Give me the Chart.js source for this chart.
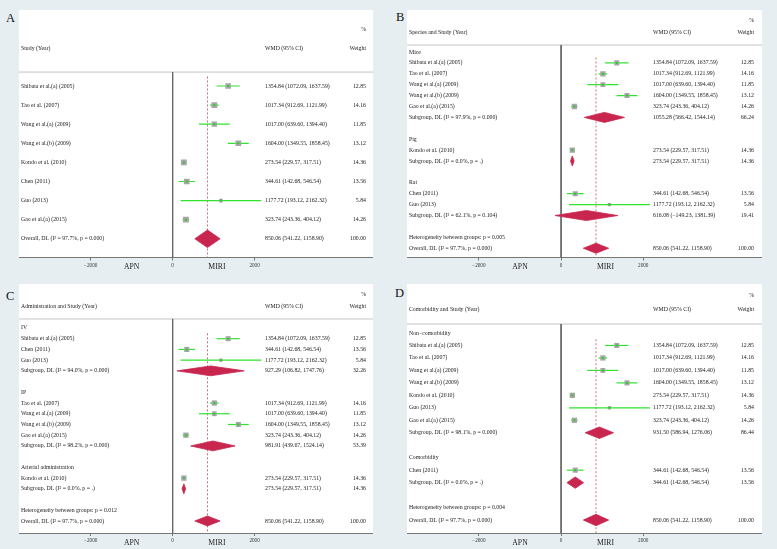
<!DOCTYPE html>
<html lang="en">
<head>
<meta charset="UTF-8" />
<title>Forest plots - WMD APN vs MIRI</title>
<script src="https://cdn.jsdelivr.net/npm/chart.js"></script>
<style>
  html, body { margin: 0; padding: 0; }
  body {
    width: 777px; height: 549px; position: relative; overflow: hidden;
    background: #e7eef1;
    font-family: "Liberation Serif", "Times New Roman", serif;
  }
  .panel { position: absolute; }
  .tag { position: absolute; font-size: 12.5px; line-height: 12.5px; color: #111; }
</style>
</head>
<body>
  <div class="tag" style="left:6px;top:12px;">A</div>
  <div class="tag" style="left:396px;top:11px;">B</div>
  <div class="tag" style="left:6px;top:290px;">C</div>
  <div class="tag" style="left:395px;top:287px;">D</div>
  <div class="panel" style="left:19px;top:10px;width:354px;height:266px;"><canvas id="cA"></canvas></div>
  <div class="panel" style="left:407px;top:10px;width:355px;height:266px;"><canvas id="cB"></canvas></div>
  <div class="panel" style="left:19px;top:284px;width:354px;height:265px;"><canvas id="cC"></canvas></div>
  <div class="panel" style="left:407px;top:284px;width:355px;height:265px;"><canvas id="cD"></canvas></div>
<script>
// individual studies
const studies = ['Shibata et al.(a) (2005)', 'Tao et al. (2007)', 'Wang et al.(a) (2009)', 'Wang et al.(b) (2009)',
                 'Kondo et al. (2010)', 'Chen (2011)', 'Guo (2013)', 'Gao et al.(a) (2015)'];
const wmd    = [1354.84, 1017.34, 1017.00, 1604.00, 273.54, 344.61, 1177.72, 323.74];
const ciLow  = [1072.09, 912.69, 639.60, 1349.55, 229.57, 142.68, 193.12, 243.36];
const ciHigh = [1637.59, 1121.99, 1394.40, 1858.45, 317.51, 546.54, 2162.32, 404.12];
const weights = [12.85, 14.16, 11.85, 13.12, 14.36, 13.56, 5.84, 14.26];

// overall pooled estimate
const overallEst = [850.06, 541.22, 1158.90];
const overallI2 = '97.7%';
const overallP = '0.000';

// B: species
const speciesGroups = ['Mice', 'Pig', 'Rat'];
const speciesMembers = [[0, 1, 2, 3, 7], [4], [5, 6]];
const speciesPooled = [[1055.28, 566.42, 1544.14], [273.54, 229.57, 317.51], [616.08, -149.23, 1381.39]];
const speciesWeight = [66.24, 14.36, 19.41];
const speciesI2 = ['97.9%', '0.0%', '62.1%'];
const speciesP = ['0.000', '.', '0.104'];
const speciesHetP = '0.005';

// C: administration
const adminGroups = ['IV', 'IP', 'Arterial administration'];
const adminMembers = [[0, 5, 6], [1, 2, 3, 7], [4]];
const adminPooled = [[927.29, 106.82, 1747.76], [981.91, 439.67, 1524.14], [273.54, 229.57, 317.51]];
const adminWeight = [32.26, 53.39, 14.36];
const adminI2 = ['94.0%', '98.2%', '0.0%'];
const adminP = ['0.000', '0.000', '.'];
const adminHetP = '0.012';

// D: comorbidity
const comorbGroups = ['Non\u2212comorbidity', 'Comorbidity'];
const comorbMembers = [[0, 1, 2, 3, 4, 6, 7], [5]];
const comorbPooled = [[931.50, 586.94, 1276.06], [344.61, 142.68, 546.54]];
const comorbWeight = [86.44, 13.56];
const comorbI2 = ['98.1%', '0.0%'];
const comorbP = ['0.000', '.'];
const comorbHetP = '0.004';

const xTicks = [-2000, 0, 2000];
const sideLabels = ['APN', 'MIRI'];
const sideLabelAt = [-1000, 1080];

const FONT = '"Liberation Serif", "Times New Roman", serif';
const GREEN = '#2fe32f';
const CRIMSON = '#c9264f';

function fmt(v) { return (v < 0 ? '\u2212' : '') + Math.abs(v).toFixed(2); }
function ciText(e) { return fmt(e[0]) + ' (' + fmt(e[1]) + ', ' + fmt(e[2]) + ')'; }

function studyRow(i) {
  return { kind: 'study', label: studies[i], est: [wmd[i], ciLow[i], ciHigh[i]], weight: weights[i] };
}
function overallRow() {
  return { kind: 'pool', label: 'Overall, DL (I\u00b2 = ' + overallI2 + ', p = ' + overallP + ')', est: overallEst, weight: 100 };
}
function plainRows() {
  const rows = studies.map((_, i) => studyRow(i));
  rows.push(overallRow());
  return rows;
}
function groupedRows(groups, members, pooled, poolW, i2, p, hetP) {
  const rows = [];
  groups.forEach((g, gi) => {
    rows.push({ kind: 'head', label: g });
    members[gi].forEach(si => rows.push(studyRow(si)));
    rows.push({ kind: 'pool', label: 'Subgroup, DL (I\u00b2 = ' + i2[gi] + ', p = ' + p[gi] + ')', est: pooled[gi], weight: poolW[gi] });
    rows.push({ kind: 'blank' });
  });
  rows.push({ kind: 'head', label: 'Heterogeneity between groups: p = ' + hetP });
  rows.push(overallRow());
  return rows;
}

const panels = [
  { id: 'cA', title: 'Study (Year)', rows: plainRows(),
    yMin: -3.98, yMax: 8.98, pctY: -2.98, headY: -1.99, lineY: -0.73, axisH: 18.5, box: 1.55 },
  { id: 'cB', title: 'Species and Study (Year)',
    rows: groupedRows(speciesGroups, speciesMembers, speciesPooled, speciesWeight, speciesI2, speciesP, speciesHetP),
    yMin: -3.85, yMax: 18.85, pctY: -2.85, headY: -1.83, lineY: -0.64, axisH: 18.5, box: 1.4 },
  { id: 'cC', title: 'Administration and Study (Year)',
    rows: groupedRows(adminGroups, adminMembers, adminPooled, adminWeight, adminI2, adminP, adminHetP),
    yMin: -4.10, yMax: 19.12, pctY: -3.08, headY: -2.05, lineY: -0.84, axisH: 16, box: 1.4 },
  { id: 'cD', title: 'Comorbidity and Study (Year)',
    rows: groupedRows(comorbGroups, comorbMembers, comorbPooled, comorbWeight, comorbI2, comorbP, comorbHetP),
    yMin: -3.93, yMax: 16.04, pctY: -2.97, headY: -1.92, lineY: -0.72, axisH: 16, box: 1.4 }
];

function tablePlugin(p) {
  return {
    id: 'table' + p.id,
    beforeDraw(chart) {
      const { ctx, chartArea: a } = chart;
      ctx.save();
      ctx.fillStyle = '#fff';
      ctx.fillRect(a.left, a.top, a.right - a.left, a.bottom - a.top);
      ctx.restore();
    },
    beforeDatasetsDraw(chart) {
      const { ctx, chartArea: a, scales: { y } } = chart;
      const ly = y.getPixelForValue(p.lineY);
      ctx.save();
      ctx.strokeStyle = '#c4c4c4';
      ctx.lineWidth = 1;
      ctx.beginPath(); ctx.moveTo(a.left, ly); ctx.lineTo(a.right, ly); ctx.stroke();
      ctx.restore();
    },
    afterDraw(chart) {
      const { ctx, chartArea: a, scales: { x, y } } = chart;
      const L = a.left + 2, M = a.left + 246, R = a.left + 347;
      ctx.save();
      ctx.fillStyle = '#222';
      ctx.textBaseline = 'middle';
      ctx.font = '5.8px ' + FONT;
      ctx.textAlign = 'right';
      ctx.fillText('%', R, y.getPixelForValue(p.pctY));
      ctx.fillText('Weight', R, y.getPixelForValue(p.headY));
      ctx.textAlign = 'left';
      ctx.fillText(p.title, L, y.getPixelForValue(p.headY));
      ctx.fillText('WMD (95% CI)', M, y.getPixelForValue(p.headY));
      p.rows.forEach((r, i) => {
        if (r.kind === 'blank') return;
        const py = y.getPixelForValue(i);
        ctx.textAlign = 'left';
        ctx.fillText(r.label, L, py);
        if (r.est) {
          ctx.fillText(ciText(r.est), M, py);
          ctx.textAlign = 'right';
          ctx.fillText(r.weight.toFixed(2), R, py);
        }
      });
      ctx.font = '7.7px ' + FONT;
      ctx.textAlign = 'center';
      sideLabels.forEach((s, i) => ctx.fillText(s, x.getPixelForValue(sideLabelAt[i]), a.bottom + 9.8));
      ctx.restore();
    }
  };
}

function buildDatasets(p) {
  const ds = [];
  const rows = p.rows;
  const studyIdx = rows.map((r, i) => r.kind === 'study' ? i : -1).filter(i => i >= 0);
  // confidence intervals
  studyIdx.forEach(i => {
    ds.push({ data: [{ x: rows[i].est[1], y: i }, { x: rows[i].est[2], y: i }],
      borderColor: GREEN, borderWidth: 1.2, pointRadius: 0, order: 5 });
  });
  // weight boxes and centre dots
  ds.push({ data: studyIdx.map(i => ({ x: rows[i].est[0], y: i })), showLine: false,
    pointStyle: 'rect', pointRadius: studyIdx.map(i => p.box * Math.sqrt(rows[i].weight) / Math.SQRT2),
    pointBackgroundColor: '#a6a6a6', pointBorderWidth: 0, order: 4 });
  ds.push({ data: studyIdx.map(i => ({ x: rows[i].est[0], y: i })), showLine: false,
    pointStyle: 'circle', pointRadius: 1, pointBackgroundColor: '#12d012', pointBorderWidth: 0, order: 3 });
  // pooled diamonds
  const h = 0.46;
  rows.forEach((r, i) => {
    if (r.kind !== 'pool') return;
    const [e, lo, hi] = r.est;
    ds.push({ data: [{ x: lo, y: i }, { x: e, y: i - h }, { x: hi, y: i }, { x: e, y: i + h }, { x: lo, y: i }],
      borderColor: CRIMSON, backgroundColor: CRIMSON, borderWidth: 0.8, fill: 'shape',
      pointRadius: 0, tension: 0, order: 2 });
  });
  // overall effect (dashed) and null line
  const first = studyIdx[0] - 0.5;
  ds.push({ data: [{ x: overallEst[0], y: first }, { x: overallEst[0], y: p.yMax }],
    borderColor: '#cf5a64', borderWidth: 0.9, borderDash: [2, 2], pointRadius: 0, order: 6 });
  ds.push({ data: [{ x: 0, y: p.lineY }, { x: 0, y: p.yMax }],
    borderColor: '#666', borderWidth: 1, pointRadius: 0, order: 7 });
  return ds;
}

panels.forEach(p => {
  new Chart(document.getElementById(p.id), {
    type: 'line',
    data: { datasets: buildDatasets(p) },
    options: {
      responsive: true,
      maintainAspectRatio: false,
      animation: false,
      events: [],
      layout: { padding: 0, autoPadding: false },
      plugins: { legend: { display: false }, tooltip: { enabled: false } },
      scales: {
        x: {
          type: 'linear', min: -3750, max: 4890,
          afterBuildTicks: s => { s.ticks = xTicks.map(v => ({ value: v })); },
          afterFit: s => { s.height = p.axisH; s.paddingLeft = 0; s.paddingRight = 0; },
          ticks: {
            color: '#333', padding: 2, maxRotation: 0, autoSkip: false,
            font: { family: FONT, size: 5.2 },
            callback: v => (v < 0 ? '\u2212' : '') + Math.abs(v)
          },
          grid: { drawOnChartArea: false, drawTicks: true, tickLength: 3, color: '#777' },
          border: { display: true, color: '#777', width: 1 }
        },
        y: { type: 'linear', reverse: true, min: p.yMin, max: p.yMax, display: false }
      }
    },
    plugins: [tablePlugin(p)]
  });
});
</script>
</body>
</html>
